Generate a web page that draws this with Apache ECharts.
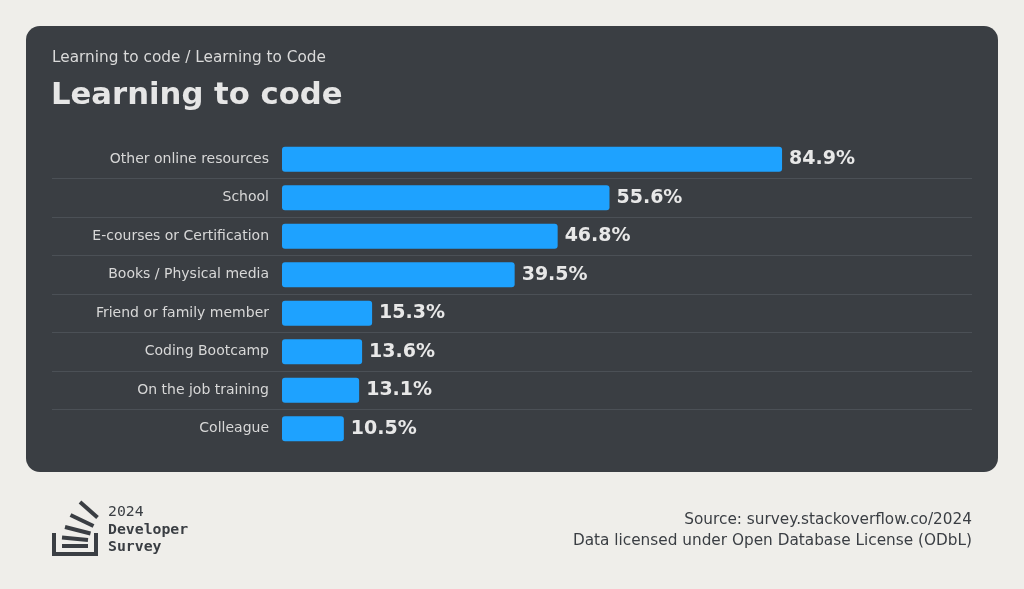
<!DOCTYPE html>
<html>
<head>
<meta charset="utf-8">
<script src="https://cdn.jsdelivr.net/npm/echarts@6/dist/echarts.min.js"></script>
<style>
html,body{margin:0;padding:0;background:#efeeea;}
#chart{width:1024px;height:589px;}
</style>
</head>
<body>
<div id="chart"></div>
<script>
const categories = ["Other online resources","School","E-courses or Certification","Books / Physical media","Friend or family member","Coding Bootcamp","On the job training","Colleague"];
const values = [84.9, 55.6, 46.8, 39.5, 15.3, 13.6, 13.1, 10.5];
const subtitleText = "Learning to code / Learning to Code";
const titleText = "Learning to code";
const sourceLines = ["Source: survey.stackoverflow.co/2024", "Data licensed under Open Database License (ODbL)"];
const logoLines = ["2024", "Developer", "Survey"];

const FONT = "DejaVu Sans";
const DARK = "#3a3e43";
const chart = echarts.init(document.getElementById('chart'), null, {renderer:'canvas'});

const logoStroke = {stroke: DARK, lineWidth: 4, lineCap: 'butt'};
chart.setOption({
  backgroundColor: '#efeeea',
  animation: false,
  title: [
    {text: subtitleText, left: 52, top: 51, padding: 0, textStyle: {fontFamily: FONT, fontSize: 15.3, fontWeight: 'normal', color: '#dadada'}},
    {text: titleText, left: 51, top: 81, padding: 0, textStyle: {fontFamily: FONT, fontSize: 30.7, fontWeight: 'bold', color: '#e6e6e6'}}
  ],
  graphic: [
    {type: 'rect', z: -100, silent: true, shape: {x: 26, y: 26, width: 972, height: 446, r: 14}, style: {fill: DARK}},
    // logo tray
    {type: 'polyline', shape: {points: [[54, 533], [54, 554], [96, 554], [96, 533]]}, style: Object.assign({fill: null}, logoStroke)},
    {type: 'line', shape: {x1: 62, y1: 546, x2: 88, y2: 546}, style: logoStroke},
    {type: 'line', shape: {x1: 62, y1: 537.5, x2: 88, y2: 540}, style: logoStroke},
    {type: 'line', shape: {x1: 65, y1: 527, x2: 90.5, y2: 533.5}, style: logoStroke},
    {type: 'line', shape: {x1: 70.5, y1: 515, x2: 93.5, y2: 526}, style: logoStroke},
    {type: 'line', shape: {x1: 80, y1: 502, x2: 97.5, y2: 517.5}, style: logoStroke},
    {type: 'text', left: 108, top: 505, style: {
      text: '{n|' + logoLines[0] + '}\n{b|' + logoLines[1] + '}\n{b|' + logoLines[2] + '}',
      rich: {
        n: {fontFamily: 'DejaVu Sans Mono', fontSize: 14.8, fontWeight: 'normal', lineHeight: 17.5, fill: DARK},
        b: {fontFamily: 'DejaVu Sans Mono', fontSize: 14.8, fontWeight: 'bold', lineHeight: 17.5, fill: DARK}
      }}},
    {type: 'text', x: 972, y: 510, style: {text: sourceLines.join('\n'), fontFamily: FONT, fontSize: 15.3, lineHeight: 21, fill: DARK, align: 'right', verticalAlign: 'top'}}
  ],
  grid: [
    {left: 52, right: 52, top: 140, bottom: 141},
    {left: 282, width: 589, top: 140, bottom: 141}
  ],
  xAxis: [
    {gridIndex: 0, type: 'value', min: 0, max: 1, show: false},
    {gridIndex: 1, type: 'value', min: 0, max: 100, show: false}
  ],
  yAxis: [
    {gridIndex: 0, type: 'category', data: categories, inverse: true,
     axisLine: {show: false}, axisTick: {show: false}, axisLabel: {show: false},
     splitLine: {show: true, showMinLine: false, showMaxLine: false, lineStyle: {color: '#4b5056', width: 1}}},
    {gridIndex: 1, type: 'category', data: categories, inverse: true,
     axisLine: {show: false}, axisTick: {show: false}, splitLine: {show: false},
     axisLabel: {margin: 13, fontFamily: FONT, fontSize: 14, color: '#d8d8d8', padding: [5, 0, 0, 0]}}
  ],
  series: [{
    type: 'bar', xAxisIndex: 1, yAxisIndex: 1, data: values, barWidth: 25,
    itemStyle: {color: '#1ea2ff', borderRadius: 3},
    label: {show: true, position: 'right', distance: 7, padding: [5, 0, 0, 0], formatter: p => p.value.toFixed(1) + '%',
      fontFamily: FONT, fontSize: 19, fontWeight: 'bold', color: '#e8e8e8'}
  }]
});
</script>
</body>
</html>
